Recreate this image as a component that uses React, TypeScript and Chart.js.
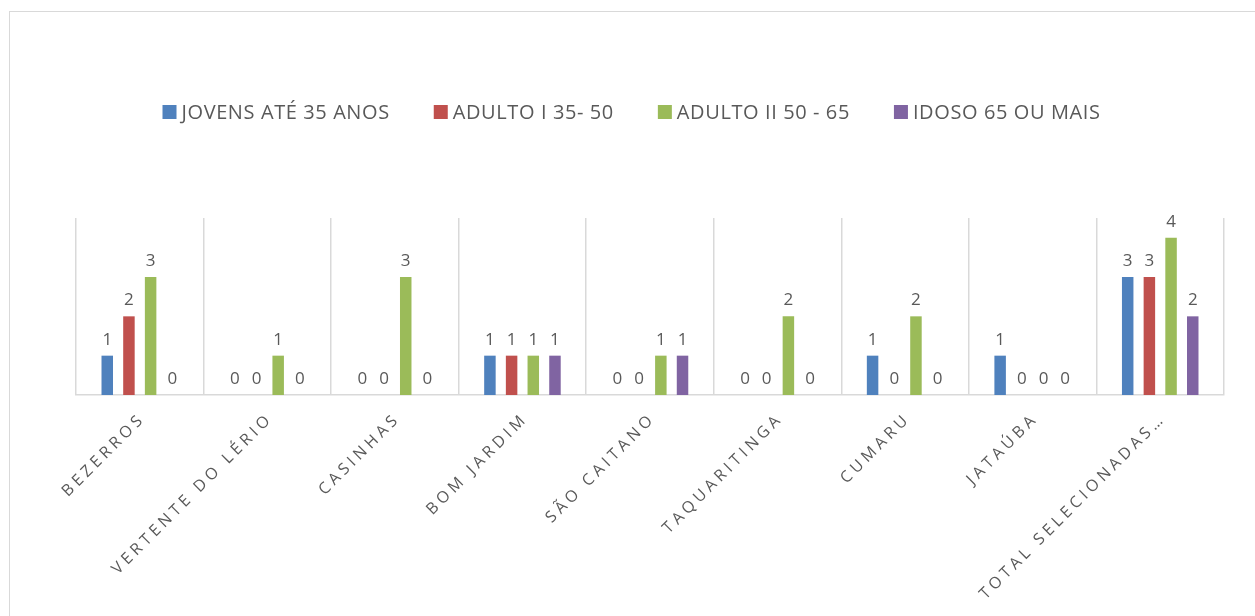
import React, { useEffect, useRef } from "react";
import { Chart, registerables } from "chart.js";

Chart.register(...registerables);

const categories = [
  "BEZERROS",
  "VERTENTE DO LÉRIO",
  "CASINHAS",
  "BOM JARDIM",
  "SÃO CAITANO",
  "TAQUARITINGA",
  "CUMARU",
  "JATAÚBA",
  "TOTAL SELECIONADAS…",
];

const seriesNames = ["JOVENS ATÉ 35 ANOS", "ADULTO I 35- 50", "ADULTO II 50 - 65", "IDOSO 65 OU MAIS"];
const jovens = [1, 0, 0, 1, 0, 0, 1, 1, 3];
const adultoI = [2, 0, 0, 1, 0, 0, 0, 0, 3];
const adultoII = [3, 1, 3, 1, 1, 2, 2, 0, 4];
const idoso = [0, 0, 0, 1, 1, 0, 0, 0, 2];
const colors = ["#4F81BD", "#C0504D", "#9BBB59", "#8064A2"];

const TEXT = "#595959";
const GRID = "#D9D9D9";
const FONT = "'Open Sans', 'Noto Sans', sans-serif";

const labelsPlugin = {
  id: "customLabels",
  afterDatasetsDraw(chart: any) {
    const ctx = chart.ctx;
    ctx.save();
    ctx.fillStyle = TEXT;
    ctx.font = `17px ${FONT}`;
    ctx.textAlign = "center";
    ctx.textBaseline = "alphabetic";
    chart.data.datasets.forEach((ds: any, di: number) => {
      const meta = chart.getDatasetMeta(di);
      meta.data.forEach((el: any, i: number) => {
        ctx.fillText(String(ds.data[i]), el.x, el.y - 11);
      });
    });
    ctx.restore();
  },
  afterDraw(chart: any) {
    const ctx = chart.ctx;
    const xs = chart.scales.x;
    const area = chart.chartArea;
    // category labels
    ctx.save();
    ctx.fillStyle = TEXT;
    ctx.font = `16px ${FONT}`;
    (ctx as any).letterSpacing = "4px";
    ctx.textAlign = "right";
    ctx.textBaseline = "middle";
    categories.forEach((c, i) => {
      const x = xs.getPixelForTick(i);
      ctx.save();
      ctx.translate(x + 3, area.bottom + 21);
      ctx.rotate(-Math.PI / 4);
      ctx.fillText(c, 0, 0);
      ctx.restore();
    });
    ctx.restore();
    // legend
    ctx.save();
    ctx.font = `20px ${FONT}`;
    (ctx as any).letterSpacing = "0.6px";
    ctx.textBaseline = "middle";
    ctx.textAlign = "left";
    const box = 14;
    const gapText = 5;
    const gapItem = 44;
    const widths = seriesNames.map((n) => ctx.measureText(n).width);
    const total =
      widths.reduce((a, w) => a + box + gapText + w, 0) + gapItem * (seriesNames.length - 1);
    let x = 621.5 - total / 2;
    const y = 100;
    seriesNames.forEach((n, i) => {
      ctx.fillStyle = colors[i];
      ctx.fillRect(x, y - box / 2, box, box);
      ctx.fillStyle = TEXT;
      ctx.fillText(n, x + box + gapText, y + 1);
      x += box + gapText + widths[i] + gapItem;
    });
    ctx.restore();
  },
};

export default function App() {
  const ref = useRef<HTMLCanvasElement>(null);
  useEffect(() => {
    if (!ref.current) return;
    const data = [jovens, adultoI, adultoII, idoso];
    const chart = new Chart(ref.current, {
      type: "bar",
      data: {
        labels: categories,
        datasets: data.map((d, i) => ({
          label: seriesNames[i],
          data: d,
          backgroundColor: colors[i],
          borderWidth: 0,
          categoryPercentage: 0.68,
          barPercentage: 0.53,
        })),
      },
      options: {
        animation: false,
        responsive: false,
        layout: { padding: { left: 66, right: 32, top: 206, bottom: 221 } },
        plugins: { legend: { display: false }, tooltip: { enabled: false } },
        scales: {
          x: {
            offset: true,
            ticks: { display: false },
            grid: { display: true, offset: true, color: GRID, drawTicks: false, lineWidth: 1.5 },
            border: { display: true, color: GRID, width: 1.5 },
          },
          y: {
            display: false,
            min: 0,
            max: 4.5,
          },
        },
      },
      plugins: [labelsPlugin],
    });
    return () => chart.destroy();
  }, []);
  return (
    <div style={{ position: "fixed", left: 0, top: 0, width: 1255, height: 616, overflow: "hidden", background: "#fff" }}>
      <div
        style={{
          position: "absolute",
          left: 9,
          top: 11,
          width: 1270,
          height: 640,
          border: `1px solid ${GRID}`,
          boxSizing: "border-box",
        }}
      >
        <canvas ref={ref} width={1246} height={604} style={{ display: "block" }} />
      </div>
    </div>
  );
}
